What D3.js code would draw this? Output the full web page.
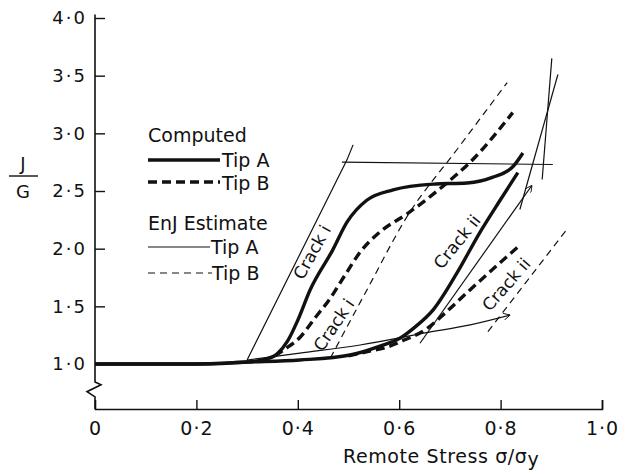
<!DOCTYPE html>
<html>
<head>
<meta charset="utf-8">
<script src="https://cdn.jsdelivr.net/npm/d3@7"></script>
<style>
  html, body { margin: 0; padding: 0; background: #fff; }
  svg text { font-family: "DejaVu Sans", sans-serif; fill: #111; }
  .thick { fill: none; stroke: #111; stroke-width: 3.4; stroke-linejoin: round; stroke-linecap: butt; }
  .thin { fill: none; stroke: #111; stroke-width: 1.2; }
  .dashThick { stroke-dasharray: 9 5; }
  .dashThin { stroke-dasharray: 7 5; }
</style>
</head>
<body>
<svg id="chart" width="618" height="473"></svg>
<script>
// axis ticks
const xTicks = [0, 0.2, 0.4, 0.6, 0.8, 1.0];
const yTicks = [1.0, 1.5, 2.0, 2.5, 3.0, 3.5, 4.0];

// Computed J/G, tip A (thick solid)
const compA_crackI = [[0, 1.0], [0.2, 1.0], [0.3, 1.017], [0.335, 1.04], [0.36, 1.09], [0.38, 1.2],
  [0.40, 1.38], [0.424, 1.64], [0.469, 1.99], [0.497, 2.23], [0.536, 2.42], [0.588, 2.51], [0.667, 2.56],
  [0.734, 2.57], [0.785, 2.62], [0.824, 2.71], [0.844, 2.83]];
const compA_crackII = [[0, 1.0], [0.2, 1.0], [0.3, 1.017], [0.404, 1.035], [0.503, 1.078], [0.562, 1.156],
  [0.602, 1.225], [0.631, 1.32], [0.667, 1.47], [0.714, 1.79], [0.759, 2.14], [0.799, 2.42], [0.834, 2.66]];

// Computed J/G, tip B (thick dashed)
const compB_crackI = [[0.355, 1.07], [0.375, 1.13], [0.404, 1.23], [0.434, 1.40], [0.464, 1.57],
  [0.493, 1.77], [0.523, 1.97], [0.562, 2.145], [0.615, 2.30], [0.694, 2.57], [0.740, 2.75], [0.824, 3.18]];
const compB_crackII = [[0.50, 1.07], [0.529, 1.10], [0.576, 1.147], [0.611, 1.21], [0.651, 1.295],
  [0.690, 1.44], [0.734, 1.62], [0.779, 1.80], [0.834, 2.015]];

// EnJ estimate, tip A (thin solid)
const enjA_crackI = [[0.300, 1.035], [0.497, 2.77], [0.509, 2.90]];
const enjA_plateau = [[0.487, 2.75], [0.903, 2.73]];
const enjA_lower = [[0.300, 1.035], [0.404, 1.095], [0.523, 1.165], [0.651, 1.27], [0.740, 1.34], [0.819, 1.425]];
const enjA_crackII = [[0.641, 1.18], [0.862, 2.55]];
const enjA_steep1 = [[0.882, 2.60], [0.901, 3.65]];
const enjA_steep2 = [[0.838, 2.34], [0.913, 3.51]];

// EnJ estimate, tip B (thin dashed)
const enjB_crackI = [[0.464, 1.05], [0.536, 1.64], [0.615, 2.275], [0.714, 2.86], [0.813, 3.44]];
const enjB_crackII = [[0.775, 1.28], [0.933, 2.18]];

// curve labels: [text, x, y, angle]
const crackLabels = [
  ['Crack i', 0.428, 1.97, -61],
  ['Crack i', 0.471, 1.34, -56],
  ['Crack ii', 0.714, 2.06, -51],
  ['Crack ii', 0.811, 1.69, -49]
];

const svg = d3.select('#chart');
const x = d3.scaleLinear().domain([0, 1]).range([95, 602]);
const y = d3.scaleLinear().domain([0.61, 4.0]).range([409, 18]);
const fmt = v => v === 0 ? '0' : d3.format('.1f')(v).replace('.', '·');

// arrow marker for the EnJ curve ends
svg.append('defs').append('marker')
  .attr('id', 'arr').attr('viewBox', '0 0 10 10').attr('refX', 10).attr('refY', 5)
  .attr('markerWidth', 7).attr('markerHeight', 7).attr('markerUnits', 'userSpaceOnUse')
  .attr('orient', 'auto')
  .append('path').attr('d', 'M0,0 L10,5 L0,10').attr('fill', 'none').attr('stroke', '#111').attr('stroke-width', 1.3);

// x axis
const xAxis = d3.axisBottom(x).tickValues(xTicks).tickFormat(fmt).tickSizeInner(-9).tickSizeOuter(-9).tickPadding(13);
const gx = svg.append('g').attr('transform', `translate(0,${y(0.61)})`).call(xAxis);
gx.select('.domain').attr('stroke', '#111').attr('stroke-width', 1.6);
gx.selectAll('.tick line').attr('stroke', '#111').attr('stroke-width', 1.4)
  .filter(d => d === 0).remove();
gx.selectAll('.tick text').attr('font-size', 19).attr('letter-spacing', 1)
  .attr('font-family', '"DejaVu Sans", sans-serif').attr('fill', '#111');

// y axis with break
const yAxis = d3.axisLeft(y).tickValues(yTicks).tickFormat(fmt).tickSizeInner(-10).tickSizeOuter(0).tickPadding(8);
const gy = svg.append('g').attr('transform', `translate(${x(0)},0)`).call(yAxis);
gy.select('.domain').remove();
gy.selectAll('.tick line').attr('stroke', '#111').attr('stroke-width', 1.4);
gy.selectAll('.tick text').attr('font-size', 18).attr('letter-spacing', 2)
  .attr('font-family', '"DejaVu Sans", sans-serif').attr('fill', '#111');

const x0 = x(0);
svg.append('path')
  .attr('d', d3.line()([
    [x0, y(4.03)], [x0, y(0.845)], [x0 + 6, y(0.82)], [x0 - 8, y(0.76)],
    [x0, y(0.715)], [x0, y(0.61)]
  ]))
  .attr('fill', 'none').attr('stroke', '#111').attr('stroke-width', 1.6);

// y label J / G
svg.append('text').attr('x', 23).attr('y', 170).attr('text-anchor', 'middle').attr('font-size', 18).text('J');
svg.append('line').attr('x1', 9).attr('x2', 38).attr('y1', 176).attr('y2', 176).attr('stroke', '#111').attr('stroke-width', 1.4);
svg.append('text').attr('x', 23).attr('y', 198).attr('text-anchor', 'middle').attr('font-size', 18).text('G');

// x title
const xt = svg.append('text').attr('x', 343).attr('y', 463).attr('font-size', 19).attr('letter-spacing', 0.6)
  .text('Remote Stress σ/σ');
xt.append('tspan').attr('dy', 3).text('y');

// curves
const line = d3.line().x(d => x(d[0])).y(d => y(d[1])).curve(d3.curveMonotoneX);
const straight = d3.line().x(d => x(d[0])).y(d => y(d[1]));

const series = [
  [compA_crackI, 'thick', line],
  [compA_crackII, 'thick', line],
  [compB_crackI, 'thick dashThick', line],
  [compB_crackII, 'thick dashThick', line],
  [enjA_crackI, 'thin', straight],
  [enjA_plateau, 'thin', straight],
  [enjA_lower, 'thin', line],
  [enjA_crackII, 'thin', straight],
  [enjA_steep1, 'thin', straight],
  [enjA_steep2, 'thin', straight],
  [enjB_crackI, 'thin dashThin', line],
  [enjB_crackII, 'thin dashThin', straight]
];
series.forEach(([data, cls, gen]) => {
  svg.append('path').datum(data).attr('class', cls).attr('d', gen);
});
svg.selectAll('path.thin').filter(d => d === enjA_lower || d === enjA_crackII).attr('marker-end', 'url(#arr)');

// crack labels
svg.selectAll('text.crack').data(crackLabels).join('text')
  .attr('class', 'crack')
  .attr('font-size', 17)
  .attr('text-anchor', 'middle')
  .attr('dominant-baseline', 'central')
  .attr('transform', d => `translate(${x(d[1])},${y(d[2])}) rotate(${d[3]})`)
  .text(d => d[0]);

// legend
const lg = svg.append('g');
lg.append('text').attr('x', 148).attr('y', 142).attr('font-size', 19).text('Computed');
lg.append('line').attr('class', 'thick').attr('x1', 148).attr('x2', 220).attr('y1', 160).attr('y2', 160);
lg.append('text').attr('x', 222).attr('y', 167).attr('font-size', 19).text('Tip A');
lg.append('line').attr('class', 'thick dashThick').attr('x1', 148).attr('x2', 220).attr('y1', 182).attr('y2', 182);
lg.append('text').attr('x', 222).attr('y', 190).attr('font-size', 19).text('Tip B');
lg.append('text').attr('x', 148).attr('y', 230).attr('font-size', 19).text('EnJ Estimate');
lg.append('line').attr('class', 'thin').attr('x1', 148).attr('x2', 210).attr('y1', 247).attr('y2', 247);
lg.append('text').attr('x', 211).attr('y', 254).attr('font-size', 19).text('Tip A');
lg.append('line').attr('class', 'thin dashThin').attr('x1', 148).attr('x2', 212).attr('y1', 273).attr('y2', 273);
lg.append('text').attr('x', 212).attr('y', 280).attr('font-size', 19).text('Tip B');
</script>
</body>
</html>
